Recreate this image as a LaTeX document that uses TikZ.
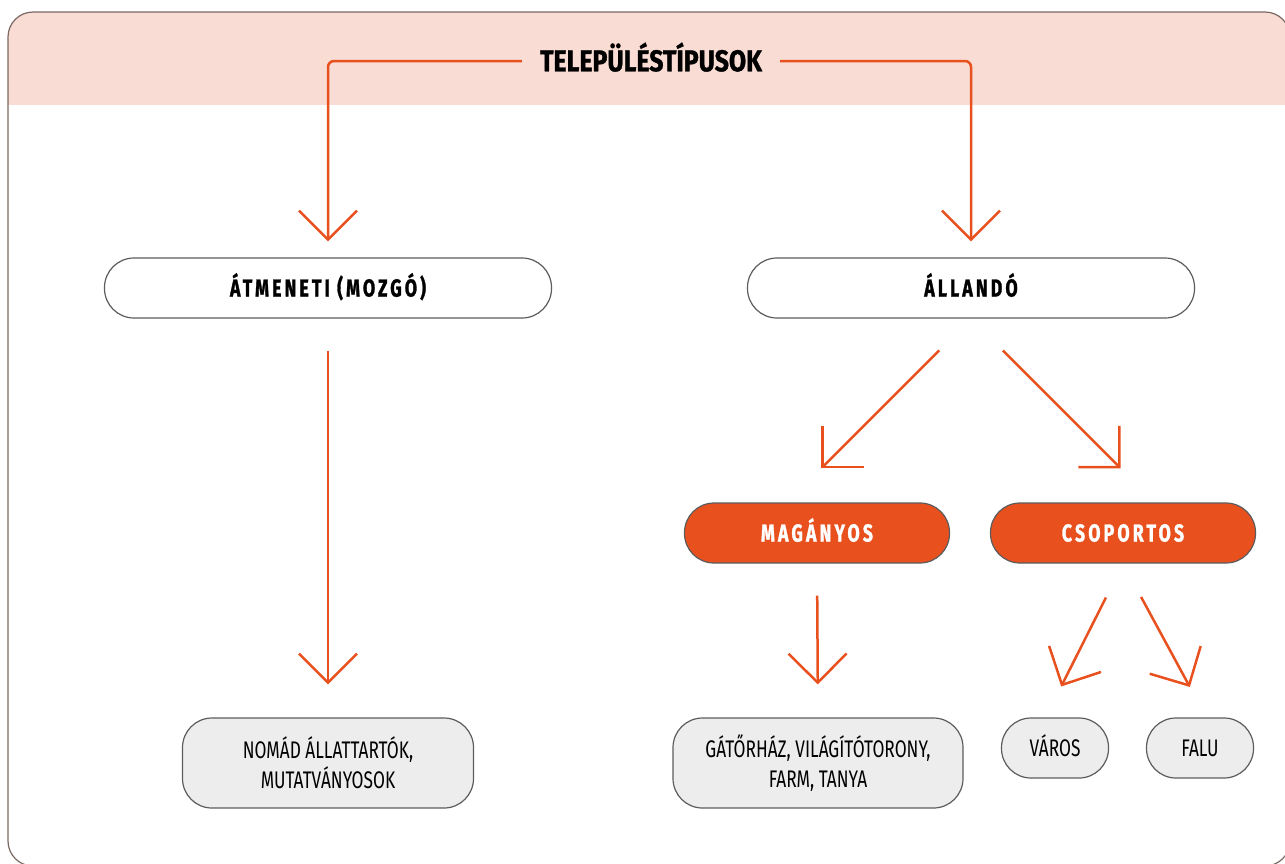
\documentclass[tikz,border=0pt]{standalone}
\usepackage{fontspec}
\setmainfont{Fira Sans}[FakeStretch=0.72]
\newfontfamily\titlefont{Fira Sans}[FakeStretch=0.83,FakeBold=1.2]
\newfontfamily\labelfont{Fira Sans}[FakeStretch=0.72,FakeBold=1.2,LetterSpace=13]
\usetikzlibrary{arrows.meta,positioning}
\definecolor{bandpink}{HTML}{F9DCD3}
\definecolor{arrorange}{HTML}{E8501E}
\definecolor{boxgray}{HTML}{EDEDED}
\definecolor{edgegray}{HTML}{5C5C5C}
\definecolor{framebrown}{HTML}{7A6862}

\begin{document}
\begin{tikzpicture}[x=1pt,y=-1pt,every node/.style={font=\fontsize{24}{30}\selectfont},
  pill/.style={draw=edgegray,line width=1.2pt,rounded corners=29.5pt,minimum height=60pt,inner sep=0pt,text height=17pt,text depth=0pt,font=\fontsize{24.5}{26}\labelfont\bfseries},
  main/.style={pill,fill=white,minimum width=447pt},
  sub/.style={pill,fill=arrorange,text=white,minimum width=265pt},
  leaf/.style={draw=edgegray,line width=1.2pt,fill=boxgray,rounded corners=29.5pt,minimum height=60pt,inner sep=0pt,align=center},
  arr/.style={draw=arrorange,line width=2.5pt,-{Straight Barb[length=29pt,width=58pt]}}]
\useasboundingbox (0,0) rectangle (1285,863);
\begin{scope}
\clip[rounded corners=25pt] (8,12) rectangle (1290,866);
\fill[bandpink] (0,0) rectangle (1300,105);
\end{scope}
\draw[framebrown,line width=1.2pt,rounded corners=25pt] (8,12) rectangle (1290,866);
\node[font=\fontsize{30}{30}\titlefont\bfseries,inner xsep=18pt,text height=20.5pt,text depth=0pt] (title) at (651,61) {TELEPÜLÉSTÍPUSOK};
\node[main] (atm) at (328,288) {ÁTMENETI (MOZGÓ)};
\node[main] (all) at (971,288) {ÁLLANDÓ};
\node[sub] (mag) at (817,533) {MAGÁNYOS};
\node[sub] (csop) at (1123,533) {CSOPORTOS};
\node[leaf,minimum width=291pt,minimum height=90pt] (nom) at (328,763) {NOMÁD ÁLLATTARTÓK,\\MUTATVÁNYOSOK};
\node[leaf,minimum width=290pt,minimum height=90pt] (gat) at (818,763) {GÁTŐRHÁZ, VILÁGÍTÓTORONY,\\FARM, TANYA};
\node[leaf,minimum width=107pt,text height=16.5pt,text depth=0pt] (var) at (1055,748) {VÁROS};
\node[leaf,minimum width=107pt,text height=16.5pt,text depth=0pt] (falu) at (1200,748) {FALU};
\draw[arr,rounded corners=6pt,shorten >=16pt] (title.west) -| (atm.north);
\draw[arr,rounded corners=6pt,shorten >=16pt] (title.east) -| (all.north);
\draw[arr,shorten <=32pt,shorten >=33pt] (atm.south) -- (nom.north);
\draw[arr,shorten <=45pt,shorten >=50pt] (all.south) -- ++(-185,185);
\draw[arr,shorten <=45pt,shorten >=50pt] (all.south) -- ++(185,185);
\draw[arr,shorten <=32pt,shorten >=33pt] (mag.south) -- (gat.north);
\draw[arr,shorten <=38pt,shorten >=36pt] (csop.south) -- ++(-78,155);
\draw[arr,shorten <=38pt,shorten >=36pt] (csop.south) -- ++(84,155);
\end{tikzpicture}
\end{document}
